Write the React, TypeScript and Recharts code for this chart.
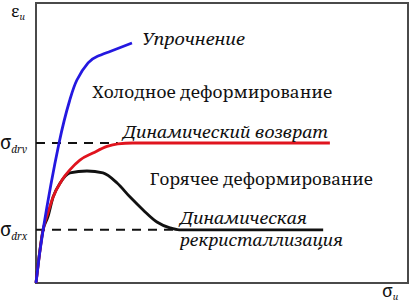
import { LineChart, Line, XAxis, YAxis, ReferenceLine, ReferenceArea, ReferenceDot } from 'recharts'

const FONT = "'Noto Serif', serif"

// levels on the vertical axis
const SIGMA_DRV = 50
const SIGMA_DRX = 19

// Упрочнение (blue)
const hardX = [0, 1.9, 6.2, 9.1, 11, 14, 16.4, 19.9, 25.8]
const hardY = [0, 18.9, 50, 65.4, 72.5, 78.6, 80.9, 82.7, 85.7]

// Динамический возврат (red)
const recovX = [0, 1.9, 3.2, 4.6, 7, 9.1, 11.8, 15.3, 19.1, 22, 26, 79]
const recovY = [0, 18.9, 25, 30.7, 36.8, 40.4, 43.9, 46.4, 48.8, 49.7, 50, 50]

// Динамическая рекристаллизация (black)
const rexX = [0, 1.9, 3.2, 4.6, 6.5, 9.1, 13.7, 18, 21.8, 25.3, 28.8, 32.5, 36, 38.5, 77.2]
const rexY = [0, 19, 23.6, 30.7, 35.7, 39.3, 40, 39.3, 35.7, 30.7, 26.1, 21.8, 19.7, 19, 19]

// annotations: left edge and baseline in chart units, w = text width in px
const notes = [
  { x: 28.5, y: 85, text: 'Упрочнение', italic: true, w: 103 },
  { x: 15.1, y: 66.1, text: 'Холодное деформирование', italic: false, w: 240 },
  { x: 23.4, y: 51.8, text: 'Динамический возврат', italic: true, w: 205 },
  { x: 30.6, y: 35, text: 'Горячее деформирование', italic: false, w: 223 },
  { x: 38.7, y: 21.1, text: 'Динамическая', italic: true, w: 127 },
  { x: 38.7, y: 13.3, text: 'рекристаллизация', italic: true, w: 163 },
]

const yTicks = [SIGMA_DRX, SIGMA_DRV]
const yTickNames: Record<number, string> = { [SIGMA_DRX]: 'drx', [SIGMA_DRV]: 'drv' }

const toPoints = (xs: number[], ys: number[]) => xs.map((x, i) => ({ x, y: ys[i] }))

function Note(props: any) {
  const { viewBox, text, italic, w } = props
  return (
    <text x={viewBox.x} y={viewBox.y} fontSize={17} fill="#111" textLength={w} lengthAdjust="spacingAndGlyphs"
      style={{ fontFamily: FONT, fontStyle: italic ? 'italic' : 'normal' }}>
      {text}
    </text>
  )
}

function SigmaTick(props: any) {
  const { y, payload } = props
  return (
    <text x={0} y={y + 6} fontSize={19} fill="#111" textAnchor="start" style={{ fontFamily: FONT }}>
      σ
      <tspan fontSize={10} style={{ fontStyle: 'italic' }} dy={4}>{yTickNames[payload.value]}</tspan>
    </text>
  )
}

export default function App() {
  return (
    <div style={{ position: 'absolute', left: 0, top: 0, width: 414, height: 305, background: '#fff' }}>
      <LineChart width={414} height={305} margin={{ top: 3, right: 6, bottom: 0, left: 0 }}>
        <XAxis type="number" dataKey="x" domain={[0, 100]} ticks={[]} axisLine={false} tickLine={false} height={22}
          label={(p: any) => (
            <text x={p.viewBox.x + p.viewBox.width - 26} y={p.viewBox.y + 14} fontSize={18} fill="#111" style={{ fontFamily: FONT }}>
              σ<tspan fontSize={9} style={{ fontStyle: 'italic' }} dy={3}>u</tspan>
            </text>
          )} />
        <YAxis type="number" domain={[0, 100]} ticks={yTicks} tick={<SigmaTick />} axisLine={false} tickLine={false} width={36}
          label={(p: any) => (
            <text x={p.viewBox.x + 11} y={p.viewBox.y + 14} fontSize={17} fill="#111" style={{ fontFamily: FONT }}>
              ε<tspan fontSize={9} style={{ fontStyle: 'italic' }} dy={3}>u</tspan>
            </text>
          )} />
        <ReferenceArea x1={0} x2={100} y1={0} y2={100} fill="none" stroke="#4a4a4a" strokeWidth={2} />
        <ReferenceLine segment={[{ x: 0, y: SIGMA_DRV }, { x: 22, y: SIGMA_DRV }]} stroke="#111" strokeWidth={2} strokeDasharray="9 7" />
        <ReferenceLine segment={[{ x: 0, y: SIGMA_DRX }, { x: 38, y: SIGMA_DRX }]} stroke="#111" strokeWidth={2} strokeDasharray="9 7" />
        <Line data={toPoints(rexX, rexY)} dataKey="y" type="monotone" stroke="#111" strokeWidth={2.8} dot={false} isAnimationActive={false} />
        <Line data={toPoints(recovX, recovY)} dataKey="y" type="monotone" stroke="#e0141e" strokeWidth={2.8} dot={false} isAnimationActive={false} />
        <Line data={toPoints(hardX, hardY)} dataKey="y" type="natural" stroke="#2418e0" strokeWidth={2.8} dot={false} isAnimationActive={false} />
        {notes.map((n) => (
          <ReferenceDot key={n.text} x={n.x} y={n.y} r={0} fill="none" stroke="none"
            label={<Note text={n.text} italic={n.italic} w={n.w} />} />
        ))}
      </LineChart>
    </div>
  )
}
